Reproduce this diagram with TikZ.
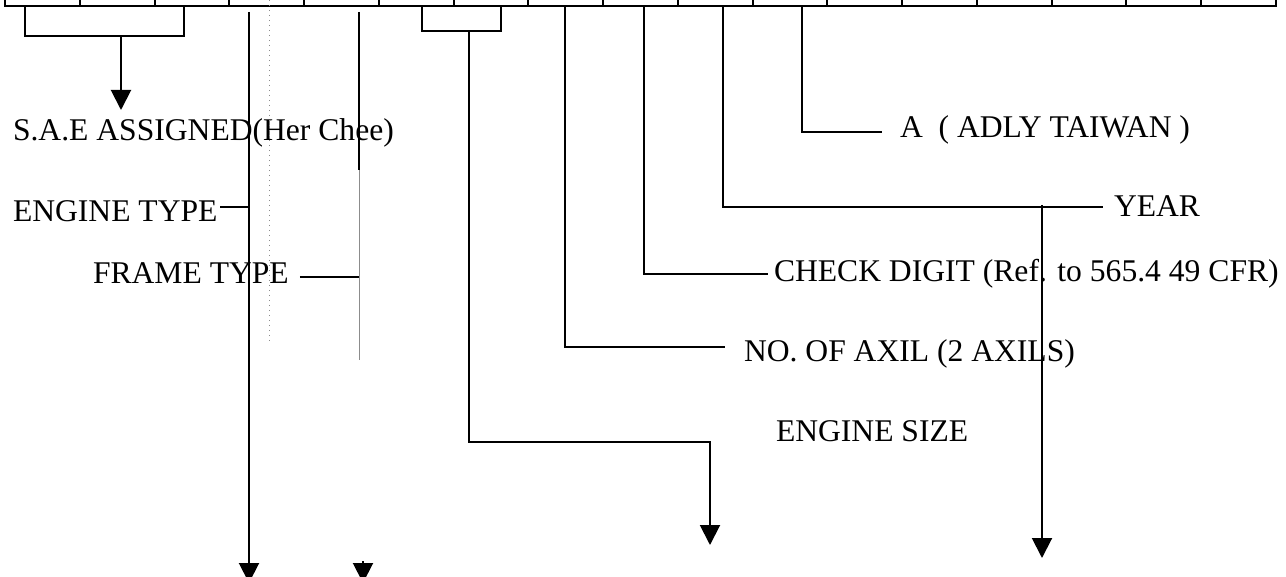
\documentclass[tikz,border=0pt]{standalone}
\usepackage{fontspec}
\setmainfont{Liberation Serif}
\usetikzlibrary{arrows.meta,positioning}

\begin{document}
\begin{tikzpicture}[x=0.5pt,y=-0.5pt,line width=1pt,
	lbl/.style={inner sep=0pt,anchor=base west,font=\fontsize{15.8}{19}\selectfont},
	tip/.style={-{Triangle[width=10pt,length=10pt]}},
	faint/.style={line width=0.5pt,draw=black!45}]
	\useasboundingbox (0,0) rectangle (1286,577);
	\clip (0,0) rectangle (1286,577);
	\draw (5,-30) rectangle (1276,6);
	\foreach \i in {1,...,16}
		\draw ({5+74.76*\i},-30) -- ({5+74.76*\i},6);
	\node [lbl] (sae) at (12,141) {S.A.E ASSIGNED(Her Chee)};
	\node [lbl] (engtype) at (12,222) {ENGINE TYPE};
	\node [lbl] (frametype) at (92,284) {FRAME TYPE};
	\node [lbl] (adly) at (899,138) {A~~(~ADLY TAIWAN~)};
	\node [lbl] (year) at (1113,217) {YEAR};
	\node [lbl] (check) at (773,282) {CHECK DIGIT (Ref. to 565.4 49 CFR)};
	\node [lbl] (axil) at (743,362) {NO. OF AXIL (2 AXILS)};
	\node [lbl] (engsize) at (775,441) {ENGINE SIZE};
	\coordinate (wmi) at (121,36);
	\coordinate (sae tip) at (121,110);
	\draw (25,6) -- (25,36) -- (184,36) -- (184,6);
	\draw [tip] (wmi) -- (sae tip);
	\coordinate (et top) at (249,12);
	\coordinate (et tip) at (249,583);
	\draw [tip] (et top) -- (et tip);
	\draw ([shift={(1pt,2.2pt)}]engtype.east) coordinate (et in) -- (et in -| et top);
	\draw [faint,dotted] (269,0) -- (269,343);
	\coordinate (ft top) at (359,12);
	\draw (ft top) -- (359,170);
	\draw [faint] (359,170) -- (359,360);
	\draw [tip] (363,561) -- (363,583);
	\draw ([shift={(5pt,-1.75pt)}]frametype.east) coordinate (ft in) -- (ft in -| ft top);
	\coordinate (es) at (469,31);
	\coordinate (es tip) at (710,545);
	\draw (422,6) -- (422,31) -- (501,31) -- (501,6);
	\draw [tip] (es) -- (469,442) -| (es tip);
	\draw (565,6) |- ([shift={(-9pt,3.5pt)}]axil.west);
	\draw (644,6) |- ([xshift=-2.5pt]check.west);
	\draw (723,6) |- ([xshift=-5pt]year.west) coordinate (yr end);
	\coordinate (yr tap) at (1042,205);
	\coordinate (yr tip) at (1042,558);
	\draw [tip] (yr tap) -- (yr tip);
	\draw (802,6) |- ([shift={(-8.5pt,-1pt)}]adly.west);
\end{tikzpicture}
\end{document}
